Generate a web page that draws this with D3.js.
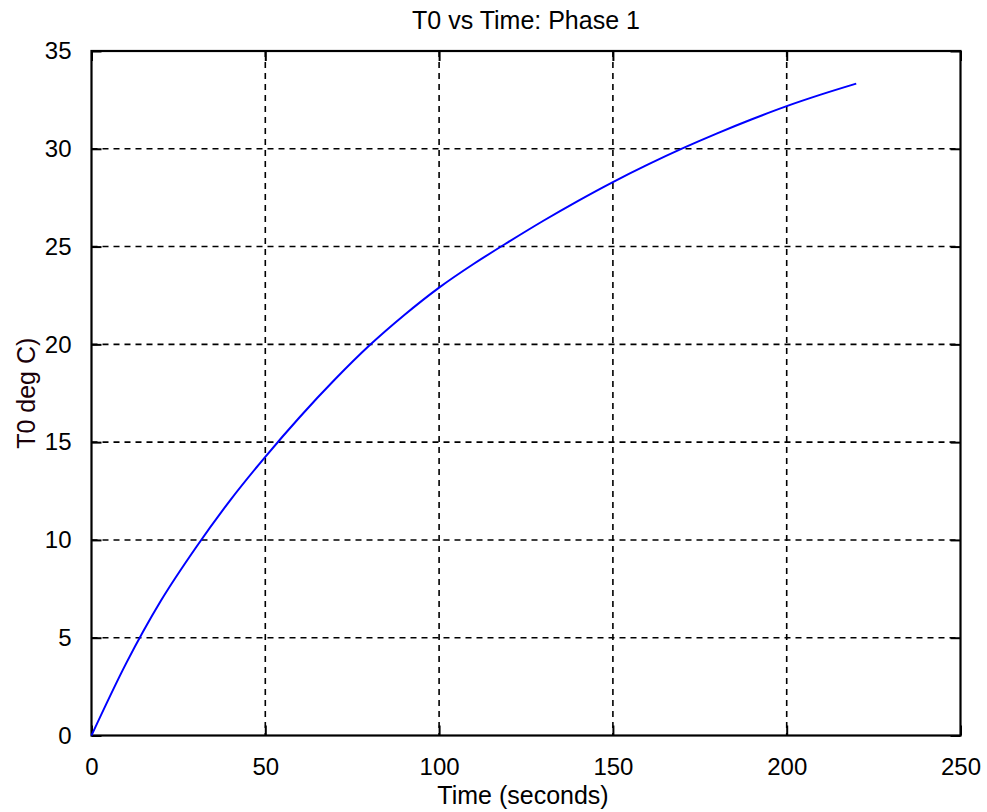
<!DOCTYPE html>
<html>
<head>
<meta charset="utf-8">
<script src="https://cdn.jsdelivr.net/npm/d3@7"></script>
<style>
  html, body { margin: 0; padding: 0; background: #fff; }
  svg { display: block; font-family: "Liberation Sans", Arial, sans-serif; }
</style>
</head>
<body>
<svg id="chart" width="987" height="812"></svg>
<script>
// Phase 1 heating record: temperature T0 (deg C) against elapsed time (s)
const timeSec = [0, 10, 20, 30, 40, 50, 60, 70, 80, 90, 100, 110, 120, 130, 140, 150, 160, 170, 180, 190, 200, 210, 220];
const tempC   = [0, 3.7, 6.9, 9.6, 12.05, 14.25, 16.3, 18.2, 19.95, 21.5, 22.9, 24.12, 25.24, 26.32, 27.34, 28.3, 29.19, 30.02, 30.79, 31.51, 32.18, 32.78, 33.33];

const xTicks = [0, 50, 100, 150, 200, 250];
const yTicks = [0, 5, 10, 15, 20, 25, 30, 35];

const titleText = "T0 vs Time: Phase 1";
const xLabel = "Time (seconds)";
const yLabel = "T0 deg C)";

const svg = d3.select("#chart");
const box = { left: 91.5, right: 960.5, top: 51, bottom: 735.5 };

const x = d3.scaleLinear().domain([0, 250]).range([box.left, box.right]);
const y = d3.scaleLinear().domain([0, 35]).range([box.bottom, box.top]);

// dashed grid
const grid = svg.append("g").attr("stroke", "#000").attr("stroke-width", 1.6)
  .attr("stroke-dasharray", "6,5");
grid.selectAll("line.gx").data(xTicks.slice(1, -1)).join("line")
  .attr("x1", d => x(d)).attr("x2", d => x(d))
  .attr("y1", box.top).attr("y2", box.bottom);
grid.selectAll("line.gy").data(yTicks.slice(1, -1)).join("line")
  .attr("x1", box.left).attr("x2", box.right)
  .attr("y1", d => y(d)).attr("y2", d => y(d));

// axes with inward ticks
const tickLen = 10;
const fontTick = 24;
const bottomAxis = d3.axisBottom(x).tickValues(xTicks).tickSizeInner(-tickLen).tickSizeOuter(0).tickPadding(tickLen + 12);
const topAxis = d3.axisTop(x).tickValues(xTicks).tickSizeInner(-tickLen).tickSizeOuter(0).tickFormat("");
const leftAxis = d3.axisLeft(y).tickValues(yTicks).tickSizeInner(-tickLen).tickSizeOuter(0).tickPadding(tickLen + 10);
const rightAxis = d3.axisRight(y).tickValues(yTicks).tickSizeInner(-tickLen).tickSizeOuter(0).tickFormat("");

function style(g) {
  g.select(".domain").remove();
  g.selectAll(".tick line").attr("stroke", "#000").attr("stroke-width", 2);
  g.selectAll(".tick text").attr("fill", "#000").attr("font-size", fontTick)
    .attr("font-family", "Liberation Sans, Arial, sans-serif");
}
svg.append("g").attr("transform", `translate(0,${box.bottom})`).call(bottomAxis).call(style);
svg.append("g").attr("transform", `translate(0,${box.top})`).call(topAxis).call(style);
svg.append("g").attr("transform", `translate(${box.left},0)`).call(leftAxis).call(style);
svg.append("g").attr("transform", `translate(${box.right},0)`).call(rightAxis).call(style);

// frame
svg.append("rect")
  .attr("x", box.left).attr("y", box.top)
  .attr("width", box.right - box.left).attr("height", box.bottom - box.top)
  .attr("fill", "none").attr("stroke", "#000").attr("stroke-width", 2.2);

// data line
const pts = timeSec.map((t, i) => [t, tempC[i]]);
svg.append("path")
  .datum(pts)
  .attr("fill", "none")
  .attr("stroke", "#0000ff")
  .attr("stroke-width", 2)
  .attr("d", d3.line().x(d => x(d[0])).y(d => y(d[1])).curve(d3.curveMonotoneX));

// titles
const cx = (box.left + box.right) / 2;
svg.append("text").attr("x", cx).attr("y", 29).attr("text-anchor", "middle")
  .attr("font-size", 25).attr("fill", "#000").text(titleText);
svg.append("text").attr("x", cx - 3).attr("y", 804).attr("text-anchor", "middle")
  .attr("font-size", 25).attr("fill", "#000").text(xLabel);
svg.append("text")
  .attr("transform", `translate(35,${(box.top + box.bottom) / 2}) rotate(-90)`)
  .attr("text-anchor", "middle")
  .attr("font-size", 25).attr("fill", "#1a0008").text(yLabel);
</script>
</body>
</html>
